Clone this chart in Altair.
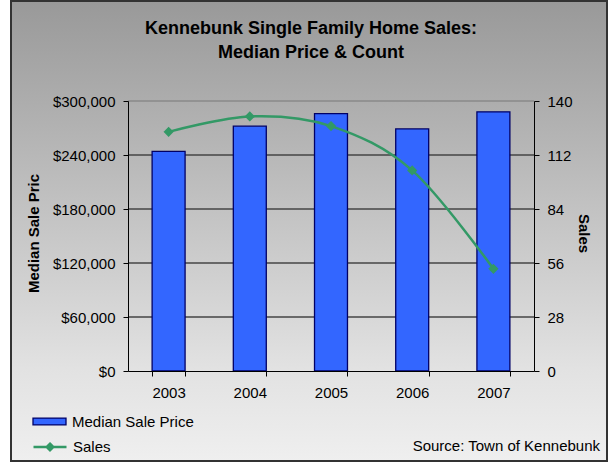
import altair as alt
import pandas as pd

years = ["2003", "2004", "2005", "2006", "2007"]
median_price = [244000, 272000, 286000, 269000, 288000]
sales = [124, 132, 127, 104, 53]
price_ticks = [0, 60000, 120000, 180000, 240000, 300000]
sales_ticks = [0, 28, 56, 84, 112, 140]
title_lines = ["Kennebunk Single Family Home Sales:", "Median Price & Count"]
source_text = "Source: Town of Kennebunk"

df = pd.DataFrame({
    "Year": years,
    "Price": median_price,
    "Sales": sales,
    "PriceName": ["Median Sale Price"] * len(years),
    "SalesName": ["Sales"] * len(years),
})
grid_df = pd.DataFrame({"tick": price_ticks[1:]})

FONT = "Liberation Sans"
W, H = 406, 270
PRICE_SCALE = alt.Scale(domain=[0, 300000], nice=False)

x_enc = alt.X(
    "Year:N",
    sort=years,
    scale=alt.Scale(paddingInner=0.594, paddingOuter=0.297),
    axis=alt.Axis(
        title=None, labelAngle=0, tickBand="extent", domainColor="black",
        tickColor="black", tickSize=5, labelPadding=9, grid=False, zindex=1,
        labelFont=FONT, labelFontSize=15, labelColor="black",
    ),
)

one = pd.DataFrame({"a": [0]})
background = alt.Chart(one).mark_rect(
    fill=alt.LinearGradient(
        gradient="linear",
        stops=[
            alt.GradientStop(color="#999999", offset=0),
            alt.GradientStop(color="#e2e2e2", offset=0.8),
            alt.GradientStop(color="#efefef", offset=1),
        ],
        x1=0, x2=0, y1=0, y2=1,
    ),
    stroke="#333333",
    strokeWidth=2,
).encode(
    x=alt.value(-117), x2=alt.value(479), y=alt.value(-100), y2=alt.value(360)
)

grid = alt.Chart(grid_df).mark_rule(strokeWidth=1.6).encode(
    y=alt.Y("tick:Q", scale=PRICE_SCALE, axis=None),
    color=alt.condition("datum.tick >= 300000", alt.value("#8a8a8a"), alt.value("#454545")),
)

bars = alt.Chart(df).mark_bar(stroke="#000066", strokeWidth=1.3).encode(
    x=x_enc,
    y=alt.Y(
        "Price:Q",
        scale=PRICE_SCALE,
        axis=alt.Axis(
            orient="left", values=price_ticks, format="$,.0f", zindex=1,
            title="Median Sale Pric", titleFont=FONT, titleFontSize=15,
            titleFontWeight="bold", titleColor="black", titleAngle=270,
            titleX=-95, titleY=132, titleAlign="center", titleBaseline="middle",
            labelFont=FONT, labelFontSize=15, labelColor="black",
            tickSize=5, labelPadding=8, tickColor="black", domainColor="black",
            grid=False,
        ),
    ),
    fill=alt.Fill(
        "PriceName:N",
        scale=alt.Scale(domain=["Median Sale Price"], range=["#3366FF"]),
        legend=alt.Legend(
            title=None, orient="none", legendX=-96, legendY=303,
            symbolType="M-1,-0.21H1V0.21H-1Z", symbolSize=1089,
            symbolStrokeColor="#000066", symbolStrokeWidth=1.3,
            labelFont=FONT, labelFontSize=15, labelColor="black", labelOffset=5,
        ),
    ),
)

line = alt.Chart(df).mark_line(
    interpolate="cardinal", strokeWidth=2.5,
    point=alt.OverlayMarkDef(shape="diamond", size=55, filled=True, color="#339966"),
).encode(
    x=x_enc,
    y=alt.Y(
        "Sales:Q",
        scale=alt.Scale(domain=[0, 140], nice=False),
        axis=alt.Axis(
            orient="right", values=sales_ticks, title="Sales", zindex=1,
            titleFont=FONT, titleFontSize=15, titleFontWeight="bold",
            titleColor="black", titleAngle=90, titleX=49, titleY=132,
            titleAlign="center", titleBaseline="middle",
            labelFont=FONT, labelFontSize=15, labelColor="black",
            tickSize=5, labelPadding=8, tickColor="black", domainColor="black",
            grid=False,
        ),
    ),
    stroke=alt.Stroke(
        "SalesName:N",
        scale=alt.Scale(domain=["Sales"], range=["#339966"]),
        legend=alt.Legend(
            title=None, orient="none", legendX=-96, legendY=328,
            symbolType="M-1,0H1M0,-0.2L0.2,0L0,0.2L-0.2,0Z", symbolSize=1089,
            symbolStrokeWidth=2.5, symbolFillColor="#339966",
            labelFont=FONT, labelFontSize=15, labelColor="black", labelOffset=5,
        ),
    ),
)

title1 = alt.Chart(one).mark_text(
    text=title_lines[0], font=FONT, fontSize=18, fontWeight="bold",
    color="black", align="center", baseline="alphabetic",
).encode(x=alt.value(183), y=alt.value(-67))

title2 = alt.Chart(one).mark_text(
    text=title_lines[1], font=FONT, fontSize=18, fontWeight="bold",
    color="black", align="center", baseline="alphabetic",
).encode(x=alt.value(183), y=alt.value(-43))

source = alt.Chart(one).mark_text(
    text=source_text, font=FONT, fontSize=15, color="black",
    align="right", baseline="alphabetic",
).encode(x=alt.value(472), y=alt.value(350))

chart = alt.layer(background, grid, bars, line, title1, title2, source).resolve_scale(
    y="independent", fill="independent", stroke="independent"
).properties(
    width=W, height=H, autosize="none",
    padding={"left": 128, "top": 101, "right": 76, "bottom": 93},
    background="white",
).configure_view(strokeWidth=0)

chart.save("out.html", embed_options={"renderer": "svg", "actions": False})
